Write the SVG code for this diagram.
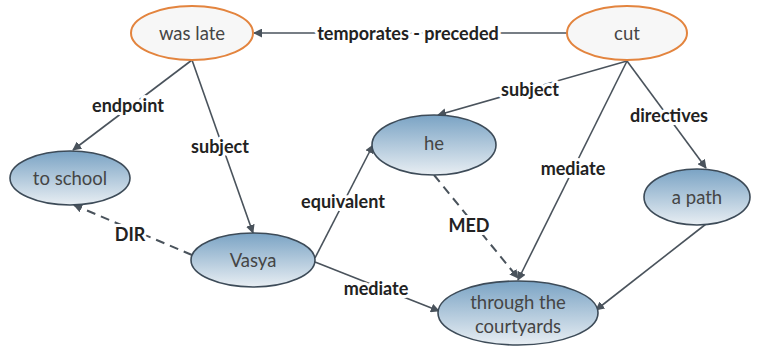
<svg xmlns="http://www.w3.org/2000/svg" width="758" height="347" viewBox="0 0 758 347">
<style>
.blue{fill:url(#g);stroke:#3d4b58;stroke-width:1.6}
.orange{fill:#f7f7f7;stroke:#e3843e;stroke-width:2}
.nt{font-family:Lato,"Open Sans",sans-serif;font-size:18.5px;fill:#454545;text-anchor:middle;dominant-baseline:central}
.e{stroke:#4a535c;stroke-width:1.6;fill:none}
.d{stroke-dasharray:9 6;stroke-width:2}
.lb{font-family:Lato,"Open Sans",sans-serif;font-size:18px;font-weight:bold;fill:#222;text-anchor:middle;dominant-baseline:central;stroke:#fff;stroke-width:6;paint-order:stroke;stroke-linejoin:round}
</style>
<defs>
<linearGradient id="g" x1="0" y1="0" x2="0" y2="1">
<stop offset="0" stop-color="#7aa3c4"/>
<stop offset="1" stop-color="#e8eef3"/>
</linearGradient>
<marker id="a" viewBox="0 0 10 10" refX="9" refY="5" markerWidth="9" markerHeight="9" markerUnits="userSpaceOnUse" orient="auto">
<path d="M0,0L10,5L0,10z" fill="#4a535c"/>
</marker>
</defs>
<g id="connectors">
<line class="e" x1="567" y1="33" x2="254" y2="33" marker-end="url(#a)"/>
<line class="e" x1="192" y1="60" x2="73" y2="150" marker-end="url(#a)"/>
<line class="e" x1="192" y1="60" x2="253" y2="233" marker-end="url(#a)"/>
<line class="e" x1="627" y1="61" x2="438" y2="115" marker-end="url(#a)"/>
<line class="e" x1="627" y1="61" x2="518" y2="280" marker-end="url(#a)"/>
<line class="e" x1="627" y1="61" x2="706" y2="168" marker-end="url(#a)"/>
<line class="e" x1="315" y1="258" x2="373" y2="145" marker-end="url(#a)"/>
<line class="e d" x1="192" y1="255" x2="74" y2="205" marker-end="url(#a)"/>
<line class="e d" x1="434" y1="175" x2="518" y2="278" marker-end="url(#a)"/>
<line class="e" x1="315" y1="262" x2="439" y2="311" marker-end="url(#a)"/>
<line class="e" x1="706" y1="224" x2="596" y2="310" marker-end="url(#a)"/>
<text class="lb" x="408" y="33">temporates - preceded</text>
<text class="lb" x="128" y="105">endpoint</text>
<text class="lb" x="220" y="146">subject</text>
<text class="lb" x="530" y="89">subject</text>
<text class="lb" x="573" y="168">mediate</text>
<text class="lb" x="669" y="115">directives</text>
<text class="lb" x="343" y="201">equivalent</text>
<text class="lb" x="130" y="234">DIR</text>
<text class="lb" x="469" y="225">MED</text>
<text class="lb" x="376" y="288">mediate</text>
</g>
<g id="was-late"><ellipse class="orange" cx="192" cy="33" rx="61" ry="27"/><text class="nt" x="192" y="33">was late</text></g>
<g id="cut"><ellipse class="orange" cx="627" cy="33" rx="60" ry="27"/><text class="nt" x="627" y="33">cut</text></g>
<g id="he"><ellipse class="blue" cx="434" cy="145" rx="62" ry="30"/><text class="nt" x="434" y="143">he</text></g>
<g id="to-school"><ellipse class="blue" cx="70" cy="178" rx="60" ry="27"/><text class="nt" x="70" y="178">to school</text></g>
<g id="vasya"><ellipse class="blue" cx="253" cy="260" rx="62" ry="27"/><text class="nt" x="253" y="260">Vasya</text></g>
<g id="a-path"><ellipse class="blue" cx="697" cy="197" rx="53" ry="28"/><text class="nt" x="697" y="197">a path</text></g>
<g id="through-the-courtyards"><ellipse class="blue" cx="518" cy="313" rx="80" ry="32"/><text class="nt" x="518" y="302">through the</text><text class="nt" x="518" y="326">courtyards</text></g>
</svg>
